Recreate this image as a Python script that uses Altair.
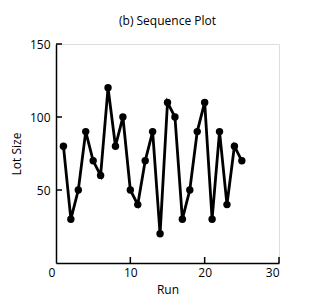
import altair as alt
import pandas as pd

runs = list(range(1, 26))
lot_size = [80, 30, 50, 90, 70, 60, 120, 80, 100, 50, 40, 70, 90, 20, 110,
            100, 30, 50, 90, 110, 30, 90, 40, 80, 70]
x_ticks = [10, 20, 30]
y_ticks = [50, 100, 150]

df = pd.DataFrame({"Run": runs, "Lot Size": lot_size})
xt = pd.DataFrame({"v": x_ticks})
yt = pd.DataFrame({"v": y_ticks})

FONT = "Open Sans"
W, H = 223, 219

xscale = alt.Scale(domain=[0, 30], nice=False, zero=False)
yscale = alt.Scale(domain=[0, 150], nice=False)

xaxis = alt.Axis(values=[0, 10, 20, 30], ticks=False, grid=False, domainColor="black",
                 domainWidth=1.5, labelFont=FONT, labelFontSize=12, labelColor="black",
                 labelPadding=4, labelOffset=alt.ExprRef("datum.value == 0 ? -8 : 0"),
                 title="Run", titleFont=FONT, titleFontSize=12, titleFontWeight="normal",
                 titleColor="black", titlePadding=6)
yaxis = alt.Axis(values=[50, 100, 150], ticks=False, grid=False, domainColor="black",
                 domainWidth=1.5, labelFont=FONT, labelFontSize=12, labelColor="black",
                 labelPadding=6, title="Lot Size", titleFont=FONT, titleFontSize=12,
                 titleFontWeight="normal", titleColor="black", titlePadding=6)

base = alt.Chart(df)
line = base.mark_line(color="black", strokeWidth=2.8).encode(
    x=alt.X("Run:Q", scale=xscale, axis=xaxis),
    y=alt.Y("Lot Size:Q", scale=yscale, axis=yaxis),
)
pts = base.mark_circle(color="black", size=55, opacity=1).encode(
    x=alt.X("Run:Q", scale=xscale),
    y=alt.Y("Lot Size:Q", scale=yscale),
)
xtick = alt.Chart(xt).mark_rule(color="black", strokeWidth=1.5).encode(
    x=alt.X("v:Q", scale=xscale),
    y=alt.value(H), y2=alt.value(H - 6),
)
ytick = alt.Chart(yt).mark_rule(color="black", strokeWidth=1.5).encode(
    y=alt.Y("v:Q", scale=yscale),
    x=alt.value(0), x2=alt.value(6),
)

chart = alt.layer(line, pts, xtick, ytick).properties(
    width=W, height=H,
    title=alt.TitleParams("(b) Sequence Plot", font=FONT, fontSize=12,
                          fontWeight="normal", color="black", anchor="middle", offset=10),
    autosize=alt.AutoSizeParams(type="none"),
    padding={"left": 48, "top": 36, "right": 38, "bottom": 35},
).configure_view(stroke=None).configure(background="white")

chart.save("out.html", embed_options={"renderer": "svg", "actions": False})
